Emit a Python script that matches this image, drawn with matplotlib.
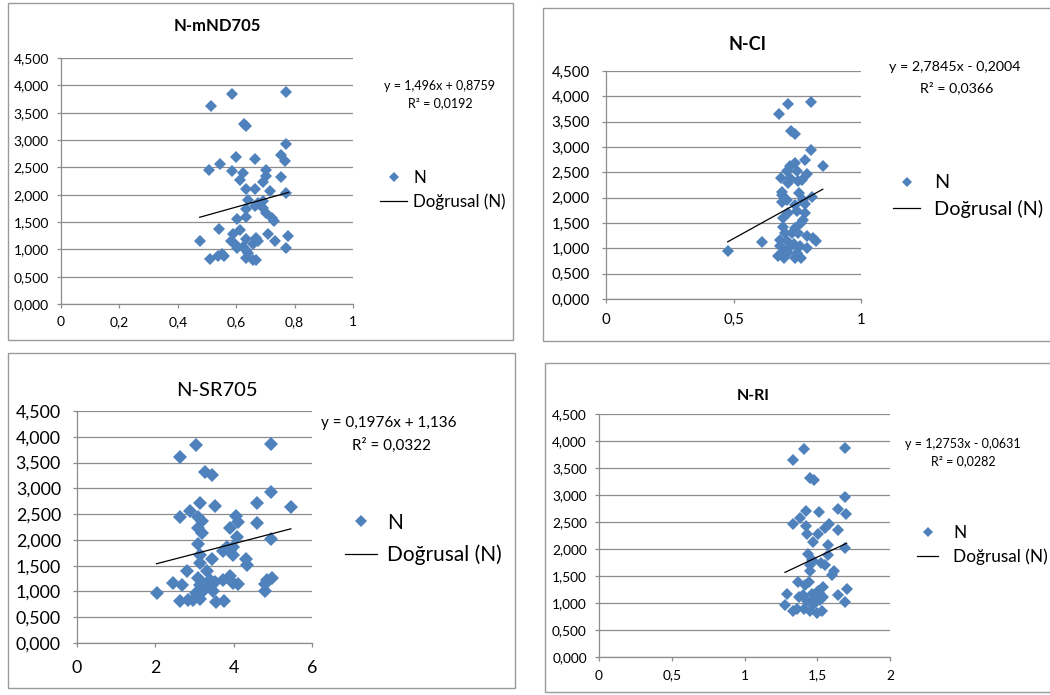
import matplotlib
matplotlib.use("Agg")
import matplotlib.pyplot as plt
from matplotlib.patches import Rectangle
from matplotlib.ticker import FuncFormatter, MultipleLocator

plt.rcParams['font.family'] = ['Lato', 'DejaVu Sans']

# ---------------- data ----------------
# Panel 1: N vs mND705
x_mnd = [0.512, 0.587, 0.770, 0.627, 0.635, 0.770, 0.601, 0.666, 0.755, 0.767,
         0.544, 0.507, 0.587, 0.624, 0.701, 0.755, 0.703, 0.692, 0.612, 0.635,
         0.666, 0.717, 0.770, 0.641, 0.692, 0.675, 0.664, 0.692, 0.635, 0.703,
         0.633, 0.721, 0.603, 0.729, 0.542, 0.612, 0.709, 0.589, 0.779, 0.475,
         0.582, 0.635, 0.669, 0.675, 0.734, 0.595, 0.624, 0.658, 0.603, 0.633,
         0.770, 0.550, 0.538, 0.558, 0.510, 0.635, 0.656, 0.669, 0.641]
y_mnd = [3.63, 3.84, 3.87, 3.30, 3.25, 2.93, 2.68, 2.65, 2.72, 2.62,
         2.57, 2.45, 2.43, 2.40, 2.45, 2.32, 2.34, 2.24, 2.26, 2.11,
         2.11, 2.07, 2.03, 1.91, 1.88, 1.84, 1.80, 1.76, 1.73, 1.66,
         1.60, 1.57, 1.55, 1.51, 1.38, 1.36, 1.28, 1.28, 1.25, 1.16,
         1.16, 1.18, 1.21, 1.15, 1.15, 1.09, 1.05, 1.09, 1.02, 0.99,
         1.02, 0.92, 0.87, 0.88, 0.83, 0.84, 0.81, 0.81, 0.93]

# Panel 2: N vs CI
x_ci = [0.477, 0.613, 0.680, 0.715, 0.804, 0.725, 0.741, 0.804, 0.850, 0.782,
        0.741, 0.722, 0.708, 0.748, 0.787, 0.686, 0.722, 0.767, 0.715, 0.754,
        0.692, 0.758, 0.807, 0.689, 0.741, 0.780, 0.748, 0.780, 0.695, 0.774,
        0.763, 0.695, 0.741, 0.728, 0.752, 0.790, 0.810, 0.824, 0.682, 0.708,
        0.739, 0.761, 0.719, 0.787, 0.695, 0.676, 0.698, 0.741, 0.763, 0.712,
        0.748, 0.682, 0.702, 0.715, 0.708, 0.689, 0.774]
y_ci = [0.95, 1.12, 3.65, 3.85, 3.88, 3.32, 3.26, 2.94, 2.63, 2.75,
        2.69, 2.63, 2.52, 2.52, 2.47, 2.38, 2.38, 2.35, 2.29, 2.32,
        2.12, 2.09, 2.02, 1.91, 1.86, 1.88, 1.73, 1.70, 1.60, 1.56,
        1.50, 1.42, 1.40, 1.30, 1.30, 1.24, 1.20, 1.14, 1.16, 1.14,
        1.09, 1.04, 1.01, 1.01, 0.91, 0.84, 0.80, 0.81, 0.81, 0.91,
        0.91, 1.04, 1.30, 1.70, 1.96, 2.06, 1.96]

# Panel 3: N vs SR705
x_sr = [2.03, 2.63, 3.04, 4.95, 3.28, 3.44, 4.95, 5.46, 4.59, 3.52,
        3.14, 2.89, 2.64, 3.10, 3.18, 4.06, 4.12, 4.59, 3.91, 3.10,
        3.18, 4.08, 4.95, 3.10, 3.82, 3.99, 3.74, 3.91, 3.99, 3.14,
        3.44, 4.32, 3.14, 4.33, 2.80, 3.31, 3.10, 3.72, 3.91, 4.98,
        2.46, 2.67, 3.14, 3.52, 3.99, 4.12, 4.80, 3.23, 3.40, 3.48,
        4.80, 3.05, 2.63, 2.84, 2.97, 3.14, 3.55, 3.75, 3.23, 3.40, 4.85]
y_sr = [0.97, 3.61, 3.84, 3.86, 3.31, 3.26, 2.92, 2.63, 2.71, 2.66,
        2.71, 2.57, 2.45, 2.44, 2.37, 2.47, 2.35, 2.32, 2.24, 2.23,
        2.13, 2.06, 2.02, 1.92, 1.87, 1.87, 1.79, 1.79, 1.70, 1.70,
        1.62, 1.62, 1.55, 1.52, 1.39, 1.39, 1.26, 1.23, 1.30, 1.26,
        1.16, 1.13, 1.13, 1.19, 1.16, 1.14, 1.14, 1.03, 1.08, 1.00,
        1.00, 0.97, 0.82, 0.84, 0.84, 0.85, 0.79, 0.82, 1.13, 1.22, 1.22]

# Panel 4: N vs RI
x_ri = [1.278, 1.294, 1.336, 1.409, 1.691, 1.450, 1.480, 1.691, 1.698, 1.640,
        1.420, 1.510, 1.381, 1.336, 1.423, 1.583, 1.553, 1.645, 1.427, 1.504,
        1.468, 1.572, 1.691, 1.437, 1.572, 1.468, 1.529, 1.556, 1.450, 1.617,
        1.599, 1.370, 1.443, 1.702, 1.416, 1.542, 1.404, 1.461, 1.513, 1.645,
        1.430, 1.487, 1.542, 1.691, 1.377, 1.473, 1.336, 1.359, 1.409, 1.450,
        1.498, 1.535, 1.484, 1.503, 1.519, 1.450, 1.461]
y_ri = [0.97, 1.17, 3.64, 3.86, 3.87, 3.31, 3.27, 2.96, 2.64, 2.74,
        2.71, 2.68, 2.57, 2.46, 2.42, 2.47, 2.38, 2.35, 2.28, 2.27,
        2.13, 2.08, 2.02, 1.91, 1.88, 1.77, 1.74, 1.71, 1.59, 1.60,
        1.52, 1.39, 1.39, 1.26, 1.34, 1.29, 1.15, 1.17, 1.19, 1.15,
        1.03, 1.09, 1.12, 1.02, 1.12, 0.97, 0.85, 0.88, 0.88, 0.85,
        0.81, 0.85, 1.03, 1.22, 1.06, 1.71, 1.80]

titles = ["N-mND705", "N-CI", "N-SR705", "N-RI"]
slopes = [1.496, 2.7845, 0.1976, 1.2753]
intercepts = [0.8759, -0.2004, 1.136, -0.0631]
eq_texts = ["y = 1,496x + 0,8759", "y = 2,7845x - 0,2004",
            "y = 0,1976x + 1,136", "y = 1,2753x - 0,0631"]
r2_texts = ["R² = 0,0192", "R² = 0,0366", "R² = 0,0322", "R² = 0,0282"]
xlims = [(0, 1), (0, 1), (0, 6), (0, 2)]
xsteps = [0.2, 0.5, 2, 0.5]
series_label = "N"
trend_label = "Doğrusal (N)"

# ---------------- layout (pixels) ----------------
W, H = 1050, 695
fig = plt.figure(figsize=(W / 100, H / 100), dpi=100)
fig.patch.set_facecolor("white")


def fx(px):
    return px / W


def fy(py):
    return 1 - py / H


panels = [
    dict(box=(8, 3, 513, 340), ax=(61, 58, 353, 304), title_xy=(217, 26), title_fs=12, title_w='bold',
         tick_fs=10, ypad=5.8, xpad=6, eq_xy=(440, 86), r2_xy=(440, 103), eq_fs=9,
         leg_xy=(380, 190), leg_fs=12.2, hl=1.6, htp=0.36, ls=0.44, ms=6.0),
    dict(box=(543, 8, 1060, 341), ax=(606, 71, 861, 299), title_xy=(748, 44), title_fs=13, title_w='bold',
         tick_fs=10.8, ypad=8.6, xpad=7, eq_xy=(955, 67), r2_xy=(957, 88), eq_fs=10.3,
         leg_xy=(893, 196), leg_fs=14.3, hl=1.36, htp=0.7, ls=0.4, ms=6.0),
    dict(box=(8, 353, 515, 688), ax=(77, 411, 312, 643), title_xy=(217, 391), title_fs=14.5, title_w='normal',
         tick_fs=12.8, ypad=8.6, xpad=9, eq_xy=(389, 423), r2_xy=(391, 445), eq_fs=11,
         leg_xy=(345, 539), leg_fs=15, hl=1.54, htp=0.48, ls=0.59, ms=7.0),
    dict(box=(545, 363, 1060, 692), ax=(599, 414, 890, 657), title_xy=(753, 396), title_fs=11.5, title_w='bold',
         tick_fs=9.9, ypad=5.8, xpad=6, eq_xy=(963, 444), r2_xy=(963, 461), eq_fs=9,
         leg_xy=(917, 545), leg_fs=12.4, hl=1.22, htp=0.87, ls=0.4, ms=6.0),
]

xs_all = [x_mnd, x_ci, x_sr, x_ri]
ys_all = [y_mnd, y_ci, y_sr, y_ri]

blue = "#4F81BD"
grid_c = "#8C8C8C"


def yfmt(v, pos):
    return f"{v:.3f}".replace('.', ',')


def xfmt(v, pos):
    s = f"{v:g}"
    return s.replace('.', ',')


for i, p in enumerate(panels):
    bx0, by0, bx1, by1 = p['box']
    fig.patches.append(Rectangle((fx(bx0), fy(by1)), fx(bx1 - bx0), (by1 - by0) / H,
                                 transform=fig.transFigure, facecolor='white',
                                 edgecolor='#9A9A9A', linewidth=1.0, zorder=-10))
    ax0, ay0, ax1, ay1 = p['ax']
    ax = fig.add_axes([fx(ax0), fy(ay1), fx(ax1 - ax0), (ay1 - ay0) / H])
    ax.set_facecolor('none')
    xs, ys = xs_all[i], ys_all[i]
    sc, = ax.plot(xs, ys, linestyle='none', marker='D', markersize=p['ms'],
                  color=blue, markeredgewidth=0, label=series_label, zorder=3)
    xmin, xmax = min(xs), max(xs)
    tl, = ax.plot([xmin, xmax], [slopes[i] * xmin + intercepts[i], slopes[i] * xmax + intercepts[i]],
                  color='black', linewidth=0.9, label=trend_label, zorder=4)
    ax.set_xlim(*xlims[i])
    ax.set_ylim(0, 4.5)
    ax.yaxis.set_major_locator(MultipleLocator(0.5))
    ax.xaxis.set_major_locator(MultipleLocator(xsteps[i]))
    ax.yaxis.set_major_formatter(FuncFormatter(yfmt))
    ax.xaxis.set_major_formatter(FuncFormatter(xfmt))
    ax.grid(axis='y', color=grid_c, linewidth=0.9)
    ax.set_axisbelow(True)
    for s in ['top', 'right']:
        ax.spines[s].set_visible(False)
    for s in ['left', 'bottom']:
        ax.spines[s].set_color(grid_c)
        ax.spines[s].set_linewidth(0.9)
    ax.tick_params(axis='both', which='major', labelsize=p['tick_fs'], colors=grid_c,
                   labelcolor='black', length=3, width=0.9, direction='out')
    ax.tick_params(axis='y', pad=p['ypad'])
    ax.tick_params(axis='x', pad=p['xpad'])
    fig.text(fx(p['title_xy'][0]), fy(p['title_xy'][1]), titles[i], ha='center', va='center',
             fontsize=p['title_fs'], fontweight=p['title_w'])
    fig.text(fx(p['eq_xy'][0]), fy(p['eq_xy'][1]), eq_texts[i], ha='center', va='center',
             fontsize=p['eq_fs'])
    fig.text(fx(p['r2_xy'][0]), fy(p['r2_xy'][1]), r2_texts[i], ha='center', va='center',
             fontsize=p['eq_fs'])
    leg = ax.legend(handles=[sc, tl], loc='center left',
                    bbox_to_anchor=(fx(p['leg_xy'][0]), fy(p['leg_xy'][1])),
                    bbox_transform=fig.transFigure, frameon=False, fontsize=p['leg_fs'],
                    handlelength=p['hl'], handletextpad=p['htp'], borderpad=0,
                    borderaxespad=0, labelspacing=p['ls'])
    leg.legend_handles[0].set_markersize(p['ms'] * 0.85)

fig.savefig("out.png", dpi=100, facecolor='white')
